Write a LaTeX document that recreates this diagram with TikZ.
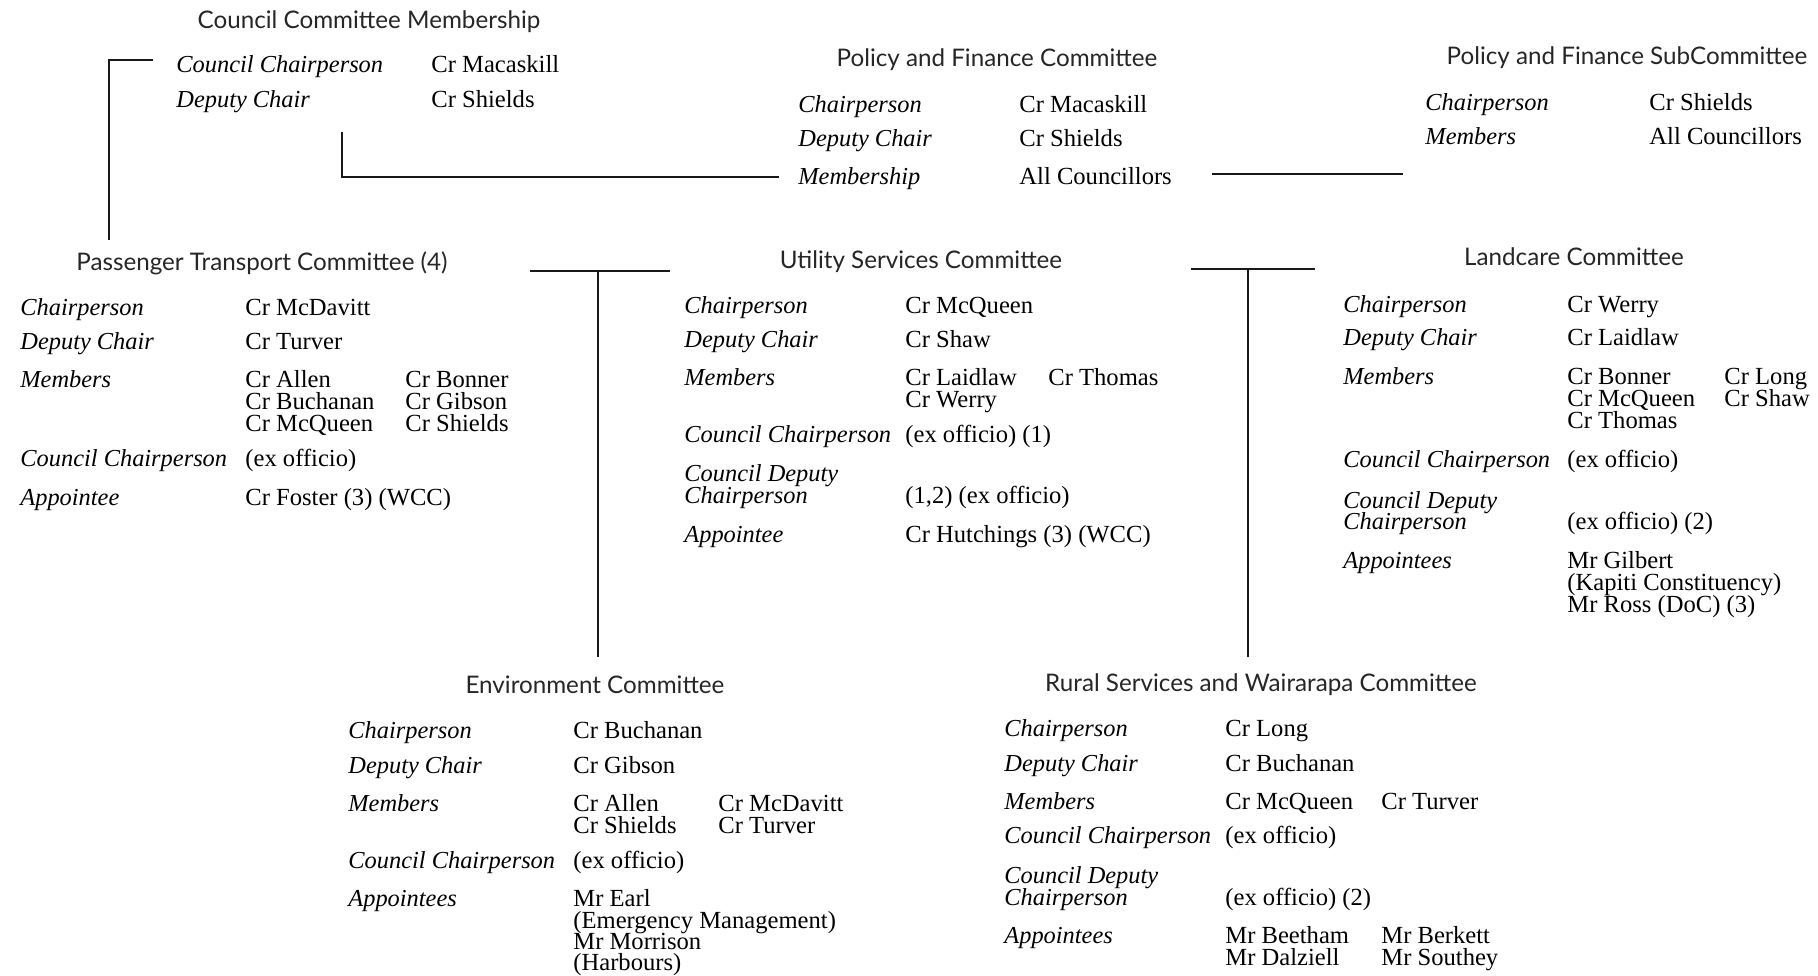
\documentclass[tikz,border=0pt]{standalone}
\usepackage{fontspec}
\setmainfont{Liberation Serif}
\newfontfamily\headfont{Lato}
\begin{document}
\begin{tikzpicture}[x=0.5pt,y=-0.5pt,
  lab/.style={anchor=base west,inner sep=0pt,font=\fontsize{12.2}{11}\selectfont\itshape},
  val/.style={anchor=base west,inner sep=0pt,font=\fontsize{12.3}{11}\selectfont},
  hd/.style={anchor=base,inner sep=0pt,font=\fontsize{12.1}{11}\selectfont\headfont,text=black!85},
  conn/.style={draw=black!90,line width=1pt}]
\useasboundingbox[fill=white] (0,0) rectangle (1818,975);
\newcommand\lab[4]{\node[lab] (#1) at (#2,{#3+2}) {#4};}
\newcommand\val[4]{\node[val] (#1) at (#2,{#3+2}) {#4};}
\newcommand\hd[4]{\node[hd] (#1) at (#2,{#3+1}) {#4};}
% Council Committee Membership
\hd{ccm}{369}{27}{Council Committee Membership}
\lab{ccm-l1}{176}{70}{Council Chairperson} \val{ccm-v1}{431}{70}{Cr Macaskill}
\lab{ccm-l2}{176}{105}{Deputy Chair} \val{ccm-v2}{431}{105}{Cr Shields}
% Policy and Finance Committee
\hd{pfc}{997}{65}{Policy and Finance Committee}
\lab{pfc-l1}{798}{110}{Chairperson} \val{pfc-v1}{1019}{110}{Cr Macaskill}
\lab{pfc-l2}{798}{144}{Deputy Chair} \val{pfc-v2}{1019}{144}{Cr Shields}
\lab{pfc-l3}{798}{182}{Membership} \val{pfc-v3}{1019}{182}{All Councillors}
% Policy and Finance SubCommittee
\hd{pfs}{1627}{63}{Policy and Finance SubCommittee}
\lab{pfs-l1}{1425}{108}{Chairperson} \val{pfs-v1}{1649}{108}{Cr Shields}
\lab{pfs-l2}{1425}{142}{Members} \val{pfs-v2}{1649}{142}{All Councillors}
% Passenger Transport
\hd{pt}{262}{269}{Passenger Transport Committee (4)}
\lab{pt-l1}{20}{313}{Chairperson} \val{pt-v1}{245}{313}{Cr McDavitt}
\lab{pt-l2}{20}{347}{Deputy Chair} \val{pt-v2}{245}{347}{Cr Turver}
\lab{pt-l3}{20}{385}{Members} \val{pt-m1}{245}{385}{Cr Allen} \val{pt-m2}{405}{385}{Cr Bonner}
\val{pt-m3}{245}{407}{Cr Buchanan} \val{pt-m4}{405}{407}{Cr Gibson}
\val{pt-m5}{245}{429}{Cr McQueen} \val{pt-m6}{405}{429}{Cr Shields}
\lab{pt-l4}{20}{464}{Council Chairperson} \val{pt-v4}{245}{464}{(ex officio)}
\lab{pt-l5}{20}{503}{Appointee} \val{pt-v5}{245}{503}{Cr Foster (3) (WCC)}
% Utility Services
\hd{us}{921}{267}{Utility Services Committee}
\lab{us-l1}{684}{311}{Chairperson} \val{us-v1}{905}{311}{Cr McQueen}
\lab{us-l2}{684}{345}{Deputy Chair} \val{us-v2}{905}{345}{Cr Shaw}
\lab{us-l3}{684}{383}{Members} \val{us-m1}{905}{383}{Cr Laidlaw} \val{us-m2}{1048}{383}{Cr Thomas}
\val{us-m3}{905}{405}{Cr Werry}
\lab{us-l4}{684}{440}{Council Chairperson} \val{us-v4}{905}{440}{(ex officio) (1)}
\lab{us-l5a}{684}{479}{Council Deputy}
\lab{us-l5b}{684}{501}{Chairperson} \val{us-v5}{905}{501}{(1,2) (ex officio)}
\lab{us-l6}{684}{540}{Appointee} \val{us-v6}{905}{540}{Cr Hutchings (3) (WCC)}
% Landcare
\hd{lc}{1574}{264}{Landcare Committee}
\lab{lc-l1}{1343}{310}{Chairperson} \val{lc-v1}{1567}{310}{Cr Werry}
\lab{lc-l2}{1343}{343}{Deputy Chair} \val{lc-v2}{1567}{343}{Cr Laidlaw}
\lab{lc-l3}{1343}{382}{Members} \val{lc-m1}{1567}{382}{Cr Bonner} \val{lc-m2}{1724}{382}{Cr Long}
\val{lc-m3}{1567}{404}{Cr McQueen} \val{lc-m4}{1724}{404}{Cr Shaw}
\val{lc-m5}{1567}{426}{Cr Thomas}
\lab{lc-l4}{1343}{465}{Council Chairperson} \val{lc-v4}{1567}{465}{(ex officio)}
\lab{lc-l5a}{1343}{506}{Council Deputy}
\lab{lc-l5b}{1343}{527}{Chairperson} \val{lc-v5}{1567}{527}{(ex officio) (2)}
\lab{lc-l6}{1343}{566}{Appointees} \val{lc-a1}{1567}{566}{Mr Gilbert}
\val{lc-a2}{1567}{588}{(Kapiti Constituency)}
\val{lc-a3}{1567}{610}{Mr Ross (DoC) (3)}
% Environment
\hd{env}{595}{692}{Environment Committee}
\lab{env-l1}{348}{736}{Chairperson} \val{env-v1}{573}{736}{Cr Buchanan}
\lab{env-l2}{348}{771}{Deputy Chair} \val{env-v2}{573}{771}{Cr Gibson}
\lab{env-l3}{348}{809}{Members} \val{env-m1}{573}{809}{Cr Allen} \val{env-m2}{718}{809}{Cr McDavitt}
\val{env-m3}{573}{831}{Cr Shields} \val{env-m4}{718}{831}{Cr Turver}
\lab{env-l4}{348}{866}{Council Chairperson} \val{env-v4}{573}{866}{(ex officio)}
\lab{env-l5}{348}{904}{Appointees} \val{env-a1}{573}{904}{Mr Earl}
\val{env-a2}{573}{926}{(Emergency Management)}
\val{env-a3}{573}{947}{Mr Morrison}
\val{env-a4}{573}{968}{(Harbours)}
% Rural Services
\hd{rs}{1261}{690}{Rural Services and Wairarapa Committee}
\lab{rs-l1}{1004}{734}{Chairperson} \val{rs-v1}{1225}{734}{Cr Long}
\lab{rs-l2}{1004}{769}{Deputy Chair} \val{rs-v2}{1225}{769}{Cr Buchanan}
\lab{rs-l3}{1004}{807}{Members} \val{rs-m1}{1225}{807}{Cr McQueen} \val{rs-m2}{1381}{807}{Cr Turver}
\lab{rs-l4}{1004}{841}{Council Chairperson} \val{rs-v4}{1225}{841}{(ex officio)}
\lab{rs-l5a}{1004}{881}{Council Deputy}
\lab{rs-l5b}{1004}{903}{Chairperson} \val{rs-v5}{1225}{903}{(ex officio) (2)}
\lab{rs-l6}{1004}{941}{Appointees} \val{rs-a1}{1225}{941}{Mr Beetham} \val{rs-a2}{1381}{941}{Mr Berkett}
\val{rs-a3}{1225}{963}{Mr Dalziell} \val{rs-a4}{1381}{963}{Mr Southey}
% connector end points
\coordinate (b1a) at (153,60); \coordinate (b1c) at (109,60); \coordinate (b1b) at (109,240);
\coordinate (b2a) at (342,132); \coordinate (b2c) at (342,177); \coordinate (b2b) at (779,177);
\coordinate (b3a) at (1212,174); \coordinate (b3b) at (1403,174);
\coordinate (t1a) at (530,271); \coordinate (t1b) at (670,271); \coordinate (t1m) at (598,271); \coordinate (t1d) at (598,657);
\coordinate (t2a) at (1191,269); \coordinate (t2b) at (1315,269); \coordinate (t2m) at (1248,269); \coordinate (t2d) at (1248,657);
\draw[conn] (b1a) -- (b1c) -- (b1b);
\draw[conn] (b2a) -- (b2c) -- (b2b);
\draw[conn] (b3a) -- (b3b);
\draw[conn] (t1a) -- (t1b);
\draw[conn] (t1m) -- (t1d);
\draw[conn] (t2a) -- (t2b);
\draw[conn] (t2m) -- (t2d);
\end{tikzpicture}
\end{document}
